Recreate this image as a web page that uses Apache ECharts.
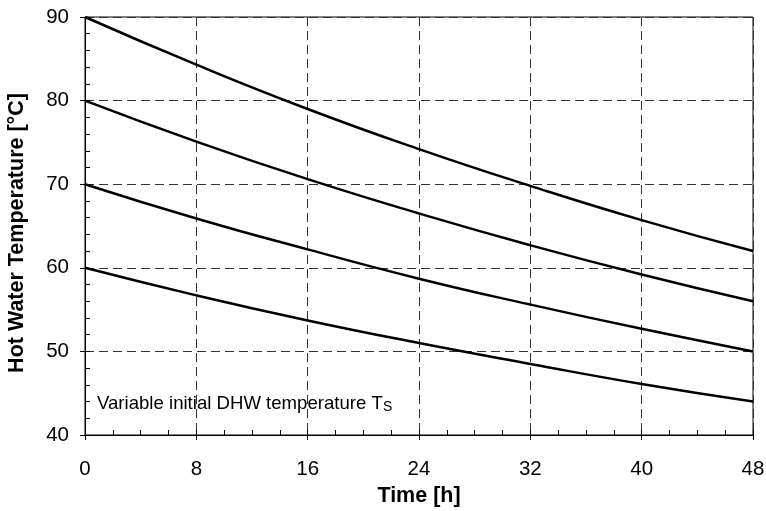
<!DOCTYPE html>
<html>
<head>
<meta charset="utf-8">
<script src="https://cdn.jsdelivr.net/npm/echarts@6/dist/echarts.min.js"></script>
<style>html,body{margin:0;padding:0;background:#fff}#c{width:766px;height:511px}</style>
</head>
<body>
<div id="c"></div>
<script>
var times = [0, 8, 16, 24, 32, 40, 48];
var ts90 = [90, 84.3, 79.0, 74.2, 69.8, 65.7, 62.0];
var ts80 = [80, 75.1, 70.6, 66.5, 62.7, 59.2, 56.0];
var ts70 = [70, 65.9, 62.2, 58.7, 55.6, 52.7, 50.0];
var ts60 = [60, 56.7, 53.7, 51.0, 48.5, 46.1, 44.0];
var xTicks = [0, 8, 16, 24, 32, 40, 48];
var yTicks = [40, 50, 60, 70, 80, 90];

var FONT = 'Arial, "Liberation Sans", Helvetica, sans-serif';
function pairs(v){ return times.map(function(t,i){ return [t, v[i]]; }); }
function mkSeries(v){
  return {type:'line', data:pairs(v), xAxisIndex:0, yAxisIndex:0, showSymbol:false,
    smooth:0.5, lineStyle:{color:'#000', width:2.5}, silent:true, z:5};
}
var chart = echarts.init(document.getElementById('c'), null, {renderer:'canvas'});
chart.setOption({
  animation:false,
  backgroundColor:'#fff',
  grid:{left:85, right:13, top:17, bottom:76, show:true, borderColor:'#000', borderWidth:1,
        containLabel:false, outerBoundsMode:'none'},
  xAxis:[{
    type:'value', min:xTicks[0], max:xTicks[xTicks.length-1], interval:8,
    name:'Time [h]', nameLocation:'middle', nameGap:47,
    nameTextStyle:{fontFamily:FONT, fontWeight:'bold', fontSize:21.5, color:'#000'},
    axisLine:{show:true, lineStyle:{color:'#000', width:1}},
    axisTick:{show:true, inside:false, length:5, lineStyle:{color:'#000'}},
    axisLabel:{fontFamily:FONT, fontSize:20.5, color:'#000', margin:24},
    splitLine:{show:true, lineStyle:{color:'#333', width:1, type:[9,5]}}
  },{
    type:'value', min:0, max:48, interval:2, position:'bottom',
    axisLine:{show:false}, axisLabel:{show:false}, splitLine:{show:false},
    axisTick:{show:true, inside:true, length:5, lineStyle:{color:'#000'}}
  }],
  yAxis:[{
    type:'value', min:yTicks[0], max:yTicks[yTicks.length-1], interval:10,
    name:'Hot Water Temperature [°C]', nameLocation:'middle', nameGap:57,
    nameTextStyle:{fontFamily:FONT, fontWeight:'bold', fontSize:21.5, color:'#000', padding:[0,14,0,0]},
    axisLine:{show:true, lineStyle:{color:'#000', width:1}},
    axisTick:{show:true, inside:false, length:5, lineStyle:{color:'#000'}},
    axisLabel:{fontFamily:FONT, fontSize:20.5, color:'#000', margin:16},
    splitLine:{show:true, lineStyle:{color:'#333', width:1, type:[9,5]}}
  },{
    type:'value', min:40, max:90, interval:2, position:'left',
    axisLine:{show:false}, axisLabel:{show:false}, splitLine:{show:false},
    axisTick:{show:true, inside:true, length:5, lineStyle:{color:'#000'}}
  }],
  graphic:[{
    type:'text', left:97, top:394, z:10,
    style:{
      text:'{a|Variable initial DHW temperature T}{s|S}',
      rich:{
        a:{fontFamily:FONT, fontSize:18.6, color:'#000', lineHeight:21},
        s:{fontFamily:FONT, fontSize:14, color:'#000', lineHeight:7, verticalAlign:'bottom'}
      }
    }
  }],
  series:[mkSeries(ts90), mkSeries(ts80), mkSeries(ts70), mkSeries(ts60)]
});
</script>
</body>
</html>
